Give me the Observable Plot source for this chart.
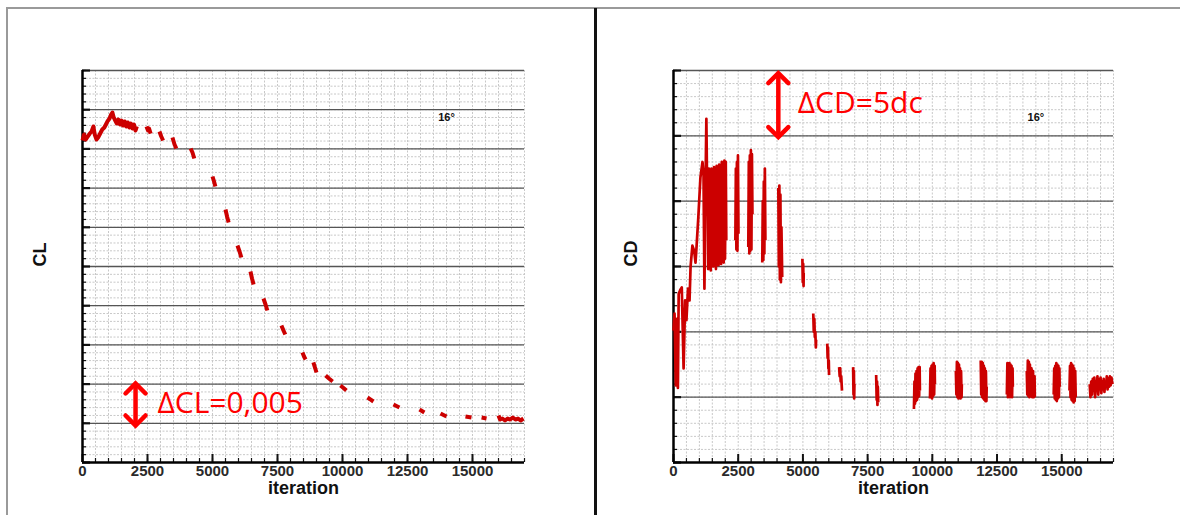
<!DOCTYPE html>
<html><head><meta charset="utf-8">
<script src="https://cdn.jsdelivr.net/npm/d3@7"></script>
<script src="https://cdn.jsdelivr.net/npm/@observablehq/plot@0.6"></script>
<style>
html,body{margin:0;padding:0;background:#fff;}
#page{position:relative;width:1180px;height:515px;overflow:hidden;background:#fff;}
.panel{position:absolute;top:0;}
.bar{position:absolute;}
</style></head><body>
<div id="page">
<div id="left" class="panel" style="left:0"></div>
<div id="right" class="panel" style="left:600px"></div>
<div class="bar" style="left:6px;top:7px;width:1174px;height:2px;background:#9a9a9a"></div>
<div class="bar" style="left:6px;top:7px;width:2px;height:508px;background:#9a9a9a"></div>
<div class="bar" style="left:594px;top:8px;width:3px;height:507px;background:#111"></div>
</div>
<script>
// ---------- data ----------
const iterTickLabels = [0, 2500, 5000, 7500, 10000, 12500, 15000];
const iterDomain = [0, 17000];
const clDomain = [1.400, 1.450];
const cdDomain = [0.0300, 0.0330];

// CL history (runs of [iteration, CL])
const clRuns = [
  [[0,1.44107],[60,1.44184],[120,1.44120],[200,1.44158],[280,1.44196],[350,1.44222],[420,1.44286],[470,1.44184],[540,1.44120],[600,1.44145],[680,1.44196],[760,1.44247],[840,1.44273],[900,1.44311],[960,1.44350],[1040,1.44388],[1100,1.44439],[1150,1.44464],[1200,1.44401],[1260,1.44362],[1320,1.44324],[1380,1.44375],[1440,1.44311],[1500,1.44362],[1560,1.44298],[1620,1.44350],[1680,1.44286],[1740,1.44337],[1800,1.44273],[1860,1.44324],[1920,1.44260],[1980,1.44311],[2040,1.44235],[2090,1.44286]],
  [[2460,1.44286],[2520,1.44235],[2560,1.44260],[2620,1.44196]],
  [[2960,1.44222],[3030,1.44158],[3100,1.44107]],
  [[3460,1.44145],[3540,1.44056],[3610,1.44005]],
  [[4160,1.44005],[4230,1.43954],[4300,1.43878]],
  [[5000,1.43648],[5060,1.43584],[5110,1.43520]],
  [[5500,1.43227],[5560,1.43138],[5620,1.43061]],
  [[5960,1.42768],[6040,1.42691],[6110,1.42615]],
  [[6460,1.42436],[6520,1.42347],[6580,1.42270]],
  [[6960,1.42092],[7040,1.42015],[7110,1.41939]],
  [[7650,1.41748],[7730,1.41684],[7800,1.41633]],
  [[8460,1.41403],[8520,1.41352],[8580,1.41314]],
  [[8880,1.41276],[8940,1.41212],[9000,1.41148]],
  [[9350,1.41110],[9480,1.41071],[9620,1.41033]],
  [[9920,1.40982],[10040,1.40950],[10150,1.40918]],
  [[10960,1.40829],[11070,1.40804],[11190,1.40778]],
  [[11960,1.40740],[12190,1.40702]],
  [[12960,1.40676],[13150,1.40638]],
  [[13770,1.40625],[14000,1.40587]],
  [[14730,1.40587],[14960,1.40574]],
  [[15350,1.40574],[15540,1.40561]],
  [[16000,1.40600],[16060,1.40548],[16150,1.40561],[16250,1.40536],[16350,1.40561],[16450,1.40548],[16550,1.40574],[16650,1.40548],[16750,1.40561],[16850,1.40536],[16960,1.40561]]
];

// CD history (runs of [iteration, CD])
const cdRuns = [
  [[0,0.03101],[40,0.03114],[90,0.03059],[130,0.03110],[170,0.03057],[200,0.03129],[260,0.03132],[320,0.03134],[390,0.03072],[450,0.03124],[500,0.03109],[560,0.03133],[620,0.03124],[660,0.03150],[730,0.03166],[800,0.03162],[850,0.03153],[890,0.03165],[960,0.03188],[1040,0.03218],[1120,0.03230],[1160,0.03220],[1195,0.03133],[1230,0.03201],[1270,0.03263],[1300,0.03208],
   [1320,0.03223],[1340,0.03148],[1365,0.03225],[1390,0.03153],[1415,0.03222],[1440,0.03147],[1465,0.03225],[1490,0.03152],[1515,0.03223],[1540,0.03150],[1565,0.03226],[1590,0.03153],[1615,0.03223],[1640,0.03148],[1665,0.03227],[1690,0.03153],[1715,0.03225],[1740,0.03151],[1765,0.03228],[1790,0.03153],[1815,0.03227],[1840,0.03152],[1865,0.03230],[1890,0.03156],[1915,0.03228],[1940,0.03153],[1965,0.03231],[1990,0.03156],[2020,0.03230],[2040,0.03170]],
  [[2390,0.03170],[2410,0.03225],[2430,0.03163],[2450,0.03230],[2470,0.03162],[2490,0.03235],[2510,0.03175]],
  [[2890,0.03165],[2910,0.03230],[2930,0.03160],[2950,0.03235],[2970,0.03162],[2990,0.03239],[3010,0.03163],[3030,0.03236],[3050,0.03190]],
  [[3430,0.03153],[3450,0.03200],[3470,0.03155],[3490,0.03215],[3510,0.03160],[3530,0.03225],[3550,0.03170]],
  [[4050,0.03210],[4070,0.03150],[4090,0.03212],[4110,0.03140],[4130,0.03205],[4150,0.03138],[4170,0.03180],[4200,0.03142]],
  [[4980,0.03156],[4995,0.03138],[5010,0.03152],[5025,0.03135],[5030,0.03145]],
  [[5400,0.03114],[5420,0.03100],[5440,0.03110],[5460,0.03096],[5480,0.03100],[5500,0.03088],[5510,0.03094]],
  [[5940,0.03091],[5955,0.03080],[5970,0.03088],[5985,0.03072],[6000,0.03078],[6010,0.03067]],
  [[6400,0.03073],[6420,0.03066],[6440,0.03072],[6460,0.03062],[6480,0.03066],[6510,0.03055]],
  [[6940,0.03073],[6955,0.03052],[6970,0.03070],[6980,0.03049],[6990,0.03060]],
  [[7830,0.03067],[7850,0.03048],[7865,0.03062],[7880,0.03044],[7895,0.03058],[7910,0.03046]],
  [[9290,0.03041],[9310,0.03062],[9330,0.03045],[9350,0.03068],[9370,0.03047],[9390,0.03070],[9410,0.03048],[9430,0.03072],[9450,0.03050],[9470,0.03073],[9490,0.03051],[9510,0.03073],[9520,0.03055]],
  [[9910,0.03049],[9930,0.03072],[9950,0.03050],[9970,0.03074],[9990,0.03049],[10010,0.03075],[10030,0.03051],[10050,0.03076],[10070,0.03052],[10090,0.03074],[10100,0.03060]],
  [[10910,0.03070],[10930,0.03052],[10950,0.03077],[10970,0.03050],[10990,0.03076],[11010,0.03049],[11030,0.03075],[11050,0.03050],[11070,0.03072],[11090,0.03049],[11110,0.03070],[11130,0.03050],[11140,0.03060]],
  [[11870,0.03078],[11890,0.03052],[11910,0.03077],[11930,0.03050],[11950,0.03076],[11970,0.03049],[11990,0.03074],[12010,0.03048],[12030,0.03072],[12050,0.03047],[12070,0.03070],[12090,0.03047],[12100,0.03058]],
  [[12880,0.03052],[12900,0.03076],[12920,0.03050],[12940,0.03075],[12960,0.03051],[12980,0.03076],[13000,0.03050],[13020,0.03075],[13040,0.03051],[13060,0.03074],[13080,0.03050],[13100,0.03072],[13110,0.03058]],
  [[13650,0.03070],[13670,0.03052],[13690,0.03078],[13710,0.03051],[13730,0.03077],[13750,0.03050],[13770,0.03075],[13800,0.03051],[13830,0.03072],[13860,0.03050],[13890,0.03070],[13920,0.03050],[13950,0.03066],[13960,0.03050]],
  [[14690,0.03052],[14710,0.03072],[14730,0.03049],[14750,0.03074],[14770,0.03048],[14790,0.03076],[14810,0.03047],[14830,0.03075],[14850,0.03049],[14870,0.03074],[14890,0.03050],[14910,0.03072],[14920,0.03058]],
  [[15300,0.03055],[15320,0.03074],[15340,0.03050],[15360,0.03076],[15380,0.03048],[15400,0.03075],[15420,0.03047],[15440,0.03074],[15460,0.03046],[15480,0.03072],[15500,0.03047],[15520,0.03070],[15540,0.03050]],
  [[16080,0.03060],[16110,0.03050],[16140,0.03062],[16170,0.03052],[16200,0.03064],[16230,0.03055],[16260,0.03065],[16290,0.03050],[16320,0.03062],[16350,0.03056],[16380,0.03066],[16410,0.03052],[16440,0.03063],[16470,0.03057],[16500,0.03065],[16530,0.03053],[16560,0.03062],[16590,0.03056],[16620,0.03064],[16650,0.03054],[16680,0.03062],[16710,0.03058],[16740,0.03066],[16770,0.03056],[16800,0.03064],[16830,0.03058],[16860,0.03066],[16890,0.03059],[16920,0.03065],[16960,0.03060]]
];

// annotations (double arrows span one major grid step)
const clArrow = [{x: 2040, y1: 1.40472, y2: 1.41008}];
const clNote = [{x: 2880, y: 1.4075, text: "ΔCL=0,005"}];
const cdArrow = [{x: 4050, y1: 0.03249, y2: 0.03298}];
const cdNote = [{x: 4800, y: 0.03275, text: "ΔCD=5dc"}];
const clTag = [{x: 14000, y: 1.4440, text: "16°"}];
const cdTag = [{x: 14000, y: 0.03264, text: "16°"}];

// ---------- drawing ----------
const SANS = "'Liberation Sans',Arial,Helvetica,sans-serif";
const RED_LINE = "#cc0000";
const chevron = {draw(context) { context.moveTo(-10, 10); context.lineTo(0, 0); context.lineTo(10, 10); }};

function table(runs) {
  return runs.flatMap((run, i) => run.map(([iter, v]) => ({iter, v, run: i})));
}

function steps(lo, hi, n) { return d3.range(n + 1).map(i => lo + (hi - lo) * i / n); }

function chart({runs, yDomain, majorCount, yLabel, tag, arrow, note, width, marginLeft, marginRight, lineWidth}) {
  const height = 515, marginTop = 70, marginBottom = 53;
  const pw = width - marginLeft - marginRight, ph = height - marginTop - marginBottom;
  const xMinor = d3.range(iterDomain[0], iterDomain[1] + 1, 500);
  const xMajor = d3.range(iterDomain[0], iterDomain[1] + 1, 2500);
  const yMajor = steps(yDomain[0], yDomain[1], majorCount);
  const yMinor = steps(yDomain[0], yDomain[1], majorCount * 5);
  const light = {stroke: "#c8c8c8", strokeOpacity: 1, strokeWidth: 1, strokeDasharray: "2,1.5"};
  return Plot.plot({
    width, height, marginLeft, marginRight, marginTop, marginBottom,
    style: {background: "transparent", fontFamily: SANS, overflow: "visible"},
    x: {domain: iterDomain, axis: null},
    y: {domain: yDomain, axis: null},
    marks: [
      Plot.gridX(xMinor, light),
      Plot.gridY(yMinor, light),
      Plot.gridY(yMajor.slice(1), {stroke: "#555", strokeOpacity: 1, strokeWidth: 1.3}),
      Plot.tickX(xMinor, {x: d => d, insetTop: ph - 4, stroke: "#111", strokeWidth: 1.2}),
      Plot.tickX(xMajor, {x: d => d, insetTop: ph - 8, stroke: "#111", strokeWidth: 2}),
      Plot.tickY(yMinor, {y: d => d, insetRight: pw - 4, stroke: "#111", strokeWidth: 1.2}),
      Plot.tickY(yMajor, {y: d => d, insetRight: pw - 8, stroke: "#111", strokeWidth: 2.2}),
      Plot.ruleX([iterDomain[0]], {stroke: "#000", strokeWidth: 2.5}),
      Plot.ruleY([yDomain[0]], {stroke: "#000", strokeWidth: 2.5}),
      Plot.line(table(runs), {x: "iter", y: "v", z: "run", stroke: RED_LINE, strokeWidth: lineWidth, strokeLinejoin: "round", strokeLinecap: "butt"}),
      Plot.axisX(iterTickLabels, {tickSize: 0, tickPadding: 3, tickFormat: d => String(d), fontSize: 15, fontWeight: "bold", fill: "#2a2a2a", label: null}),
      Plot.text(["iteration"], {frameAnchor: "bottom", dy: 31, fontSize: 18, fontWeight: "bold", fill: "#111"}),
      Plot.text([yLabel], {frameAnchor: "left", dx: -42, rotate: -90, fontSize: 18, fontWeight: "bold", fill: "#111"}),
      Plot.text(tag, {x: "x", y: "y", text: "text", fontSize: 11, fontWeight: "bold", fill: "#111"}),
      Plot.link(arrow, {x1: "x", x2: "x", y1: "y1", y2: "y2", stroke: "#ff0000", strokeWidth: 4.5}),
      Plot.vector(arrow, {x: "x", y: "y2", length: 10, rotate: 0, anchor: "start", shape: chevron, stroke: "#ff0000", strokeWidth: 4.5, strokeLinejoin: "miter"}),
      Plot.vector(arrow, {x: "x", y: "y1", length: 10, rotate: 180, anchor: "start", shape: chevron, stroke: "#ff0000", strokeWidth: 4.5, strokeLinejoin: "miter"}),
      Plot.text(note, {x: "x", y: "y", text: "text", textAnchor: "start", fill: "#ff0000", fontSize: 30, fontFamily: "'Open Sans',sans-serif"})
    ]
  });
}

document.getElementById("left").append(chart({
  runs: clRuns, yDomain: clDomain, majorCount: 10, yLabel: "CL", tag: clTag, arrow: clArrow, note: clNote,
  width: 590, marginLeft: 82, marginRight: 66, lineWidth: 4
}));
document.getElementById("right").append(chart({
  runs: cdRuns, yDomain: cdDomain, majorCount: 6, yLabel: "CD", tag: cdTag, arrow: cdArrow, note: cdNote,
  width: 580, marginLeft: 73, marginRight: 67, lineWidth: 2.7
}));
</script>
</body></html>
